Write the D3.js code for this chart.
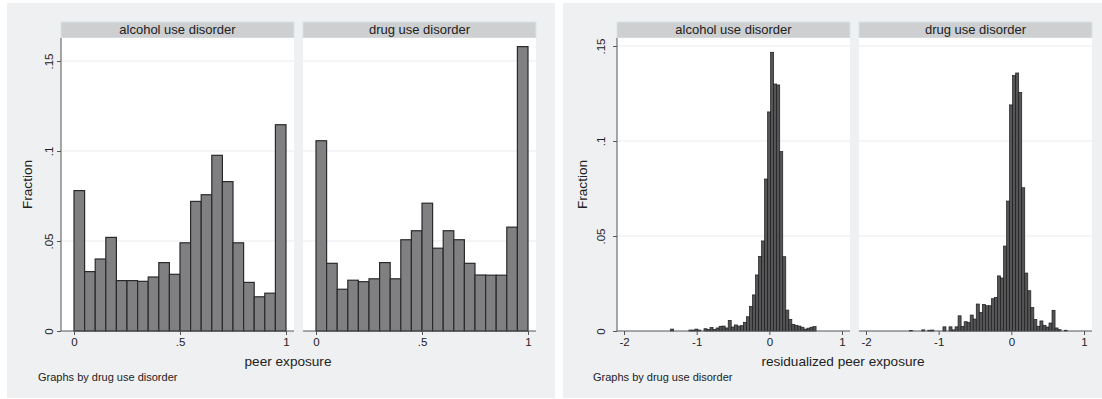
<!DOCTYPE html>
<html>
<head>
<meta charset="utf-8">
<script src="https://cdnjs.cloudflare.com/ajax/libs/d3/7.8.5/d3.min.js"></script>
<style>
  body { margin: 0; background: #fff; }
  svg { display: block; font-family: "Liberation Sans", Arial, sans-serif; }
</style>
</head>
<body>
<svg id="chart" width="1102" height="399"></svg>
<script>
var panelNames = ["alcohol use disorder", "drug use disorder"];

// peer exposure: 20 bins of width .05 starting at 0
var peerBinStart = 0,
    peerBinWidth = 0.05;
var peerAlcohol = [0.078, 0.033, 0.040, 0.052, 0.028, 0.028, 0.0276, 0.030, 0.038, 0.0315,
                   0.049, 0.072, 0.0757, 0.0976, 0.083, 0.049, 0.027, 0.019, 0.021, 0.1146];
var peerDrug = [0.1057, 0.0376, 0.0232, 0.0282, 0.0274, 0.029, 0.038, 0.029, 0.0507, 0.0557,
                0.071, 0.046, 0.0557, 0.0507, 0.0376, 0.0311, 0.031, 0.031, 0.0577, 0.158];

// residualized peer exposure: 52 bins
var residBinStart = -1.40,
    residBinWidth = 0.0417;
var residAlcohol = [0, 0.001, 0, 0, 0, 0, 0, 0.0005, 0.0005, 0.001,
                    0.0005, 0, 0.0012, 0.0008, 0.0018, 0.0008, 0.0016, 0.0025, 0.0026, 0.0016,
                    0.0056, 0.0021, 0.0032, 0.0026, 0.0028, 0.0046, 0.0075, 0.013, 0.019, 0.0295,
                    0.0393, 0.0474, 0.080, 0.1153, 0.1467, 0.130, 0.1295, 0.0944, 0.0391, 0.011,
                    0.0061, 0.0035, 0.003, 0.0026, 0.002, 0.001, 0.0015, 0.002, 0.0023, 0,
                    0, 0];
var residDrug = [0.0003, 0, 0, 0, 0.0006, 0, 0.0004, 0.0005, 0, 0,
                 0, 0.0022, 0, 0.0022, 0.0006, 0.0022, 0.008, 0.0024, 0.0049, 0.0046,
                 0.0084, 0.0063, 0.0142, 0.0098, 0.014, 0.0133, 0.0133, 0.017, 0.0177, 0.029,
                 0.0279, 0.0447, 0.0684, 0.119, 0.1344, 0.1358, 0.1256, 0.0754, 0.0305, 0.0212,
                 0.0123, 0.006, 0.0025, 0.0053, 0.003, 0.0021, 0.0042, 0.0109, 0.0016, 0.0007,
                 0, 0.0004];

var yTicks = [0, 0.05, 0.1, 0.15],
    yLabels = ["0", ".05", ".1", ".15"];
var peerXTicks = [0, 0.5, 1],
    peerXLabels = ["0", ".5", "1"];
var residXTicks = [-2, -1, 0, 1],
    residXLabels = ["-2", "-1", "0", "1"];

var svg = d3.select("#chart");
var stripTop = 22, plotTop = 38, plotBottom = 331, panelW = 233;

function drawGraph(cfg) {
  var g = svg.append("g");

  g.append("rect")
    .attr("x", cfg.left).attr("y", 3)
    .attr("width", cfg.width).attr("height", 395)
    .attr("fill", "#eff0f2");

  var y = d3.scaleLinear().domain([0, 0.15]).range([plotBottom, cfg.yTop]);

  cfg.panelX.forEach(function(px, i) {
    var x = d3.scaleLinear().domain(cfg.xDomain).range([px + cfg.xPad[0], px + cfg.xPad[1]]);
    var p = g.append("g");

    p.append("rect")
      .attr("x", px).attr("y", stripTop)
      .attr("width", panelW).attr("height", plotTop - stripTop)
      .attr("fill", "#cdcfd1")
      .attr("stroke", "#d8e3e7")
      .attr("stroke-width", 1);

    p.append("text")
      .attr("x", px + panelW / 2).attr("y", 34)
      .attr("text-anchor", "middle")
      .style("font-size", "13px")
      .style("fill", "#222")
      .text(panelNames[i]);

    p.append("rect")
      .attr("x", px).attr("y", plotTop)
      .attr("width", panelW).attr("height", plotBottom - plotTop)
      .attr("fill", "#fff");

    p.selectAll("line.grid")
      .data(yTicks.slice(1))
      .enter()
      .append("line")
      .attr("class", "grid")
      .attr("x1", px).attr("x2", px + panelW)
      .attr("y1", function(d) { return y(d); })
      .attr("y2", function(d) { return y(d); })
      .attr("stroke", "#e9ebed")
      .attr("stroke-width", 1);

    var vals = cfg.series[i];
    p.selectAll("rect.bar")
      .data(vals.map(function(v, k) { return { k: k, v: v }; }).filter(function(d) { return d.v > 0; }))
      .enter()
      .append("rect")
      .attr("class", "bar")
      .attr("x", function(d) { return x(cfg.binStart + d.k * cfg.binWidth); })
      .attr("width", function(d) {
        return x(cfg.binStart + (d.k + 1) * cfg.binWidth) - x(cfg.binStart + d.k * cfg.binWidth);
      })
      .attr("y", function(d) { return y(d.v); })
      .attr("height", function(d) { return y(0) - y(d.v); })
      .attr("fill", cfg.barFill)
      .attr("stroke", cfg.barStroke)
      .attr("stroke-width", cfg.barStrokeW);

    // x axis
    var xAxis = d3.axisBottom(x)
      .tickValues(cfg.xTicks)
      .tickSize(4)
      .tickFormat(function(d, j) { return cfg.xLabels[j]; });
    var ax = p.append("g")
      .attr("transform", "translate(0," + plotBottom + ")")
      .call(xAxis);
    ax.select(".domain").remove();
    ax.selectAll("line").attr("stroke", "#555");
    ax.selectAll("text")
      .style("font-size", "11.5px")
      .style("font-family", "Liberation Sans, Arial, sans-serif")
      .style("fill", "#222");

    p.append("line")
      .attr("x1", px).attr("x2", px + panelW)
      .attr("y1", plotBottom).attr("y2", plotBottom)
      .attr("stroke", "#555").attr("stroke-width", 1);
  });

  // y axis, first column only
  var ax0 = cfg.panelX[0];
  var yAxis = d3.axisLeft(y)
    .tickValues(yTicks)
    .tickSize(4)
    .tickFormat(function(d, j) { return yLabels[j]; });
  var ay = g.append("g")
    .attr("transform", "translate(" + ax0 + ",0)")
    .call(yAxis);
  ay.select(".domain").remove();
  ay.selectAll("line").attr("stroke", "#555");
  ay.selectAll("text")
    .attr("x", 0).attr("dy", 0)
    .attr("y", -cfg.yLabelOff)
    .attr("transform", "rotate(-90)")
    .attr("text-anchor", "middle")
    .style("font-size", "11.5px")
    .style("font-family", "Liberation Sans, Arial, sans-serif")
    .style("fill", "#222");

  g.append("line")
    .attr("x1", ax0).attr("x2", ax0)
    .attr("y1", plotTop).attr("y2", plotBottom)
    .attr("stroke", "#555").attr("stroke-width", 1);

  g.append("text")
    .attr("transform", "translate(" + cfg.yTitleX + "," + ((plotTop + plotBottom) / 2) + ") rotate(-90)")
    .attr("text-anchor", "middle")
    .style("font-size", "13.6px")
    .style("fill", "#222")
    .text("Fraction");

  g.append("text")
    .attr("x", cfg.xTitleX).attr("y", 366)
    .attr("text-anchor", "middle")
    .style("font-size", "13.6px")
    .style("fill", "#222")
    .text(cfg.xTitle);

  g.append("text")
    .attr("x", cfg.noteX).attr("y", 380.5)
    .style("font-size", "11px")
    .style("fill", "#222")
    .text("Graphs by drug use disorder");
}

drawGraph({
  left: 7, width: 548,
  panelX: [61, 303],
  xDomain: [0, 1], xPad: [13, 225],
  yTop: 61,
  series: [peerAlcohol, peerDrug],
  binStart: peerBinStart, binWidth: peerBinWidth,
  barFill: "#808083", barStroke: "#2a2a2a", barStrokeW: 1.2,
  xTicks: peerXTicks, xLabels: peerXLabels,
  yLabelOff: 8, yTitleX: 32,
  xTitle: "peer exposure", xTitleX: 288,
  noteX: 38
});

drawGraph({
  left: 563, width: 539,
  panelX: [617, 859],
  xDomain: [-2, 1], xPad: [7, 225],
  yTop: 46,
  series: [residAlcohol, residDrug],
  binStart: residBinStart, binWidth: residBinWidth,
  barFill: "#555558", barStroke: "#1c1c1c", barStrokeW: 0.7,
  xTicks: residXTicks, xLabels: residXLabels,
  yLabelOff: 12, yTitleX: 587,
  xTitle: "residualized peer exposure", xTitleX: 843,
  noteX: 593
});
</script>
</body>
</html>
